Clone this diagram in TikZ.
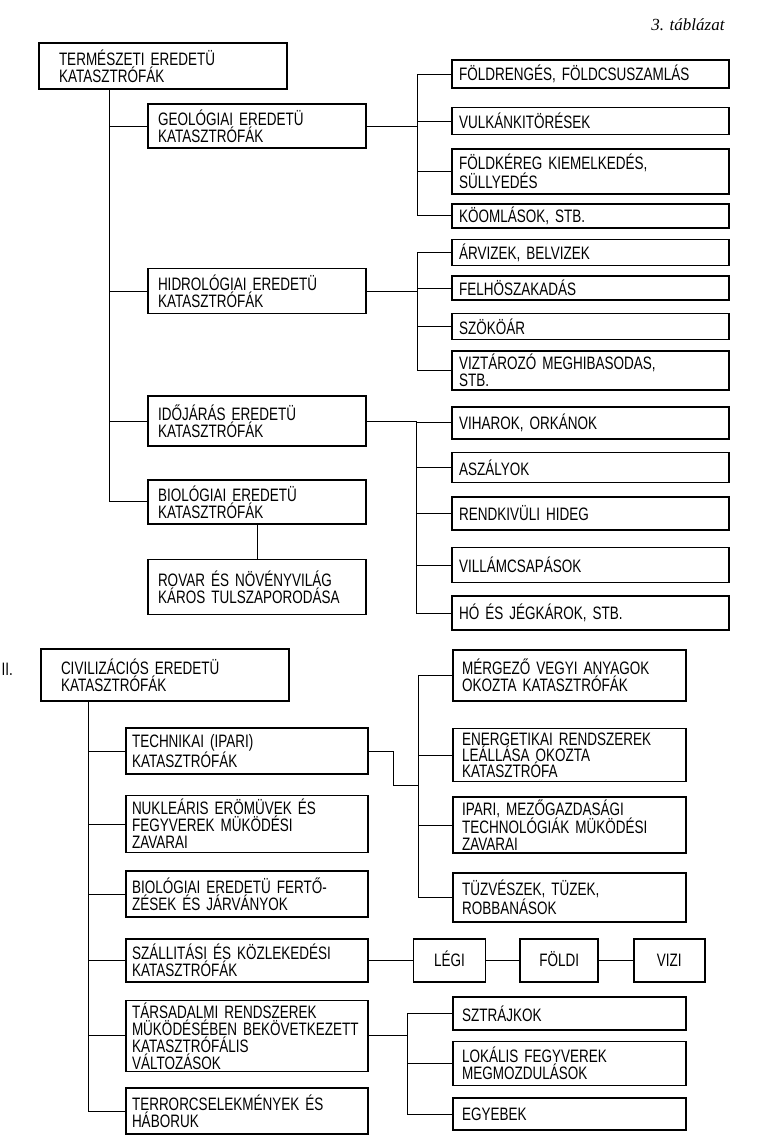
\documentclass[tikz,border=0pt]{standalone}
\usepackage{fontspec}
\setmainfont{Liberation Sans}[FakeStretch=0.75,WordSpace=1.6]
\newfontfamily\capfont{Liberation Serif}
\usetikzlibrary{positioning}

\begin{document}
\begin{tikzpicture}[
	x=1pt, y=1pt,
	font=\fontsize{18}{17}\selectfont,
	box/.style={rectangle, draw=black, line width=1.6pt, align=left, inner ysep=0pt},
	head/.style={box, text width=208pt, inner xsep=20pt},
	group/.style={box, text width=198pt, inner xsep=10pt},
	groupb/.style={box, text width=230pt, inner xsep=6pt},
	item/.style={box, text width=263pt, inner xsep=7pt},
	itemb/.style={box, text width=215pt, inner xsep=9pt},
	way/.style={box, align=center, inner xsep=0pt, text height=13pt, text depth=0pt, minimum height=43pt},
	link/.style={line width=0.9pt}
	]

	\useasboundingbox (0,0) rectangle (756,-1145);

	\node (tabla) [anchor=east, font=\capfont\itshape\fontsize{17}{19}\selectfont] at (728,-25) {3. táblázat};

		\node (nat) [head, minimum height=46pt] at (163,-66) {TERMÉSZETI EREDETÜ\\KATASZTRÓFÁK};
			\node (geo) [group, minimum height=44pt] at (257,-126) {GEOLÓGIAI EREDETÜ\\KATASZTRÓFÁK};
			\node (hidro) [group, minimum height=45pt, below=119pt of geo] {HIDROLÓGIAI EREDETÜ\\KATASZTRÓFÁK};
			\node (idoj) [group, minimum height=50pt, below=81pt of hidro] {IDŐJÁRÁS EREDETÜ\\KATASZTRÓFÁK};
			\node (bio) [group, minimum height=44pt, below=32pt of idoj] {BIOLÓGIAI EREDETÜ\\KATASZTRÓFÁK};
				\node (rovar) [group, minimum height=55pt, below=34pt of bio] {ROVAR ÉS NÖVÉNYVILÁG\\KÁROS TULSZAPORODÁSA};

				\node (fold) [item, minimum height=28pt] at (590.5,-74) {FÖLDRENGÉS, FÖLDCSUSZAMLÁS};
				\node (vulk) [item, minimum height=27pt, below=18pt of fold] {VULKÁNKITÖRÉSEK};
				\node (foldk) [item, minimum height=45pt, below=13pt of vulk] {FÖLDKÉREG KIEMELKEDÉS,\\SÜLLYEDÉS};
				\node (koom) [item, minimum height=24pt, below=8pt of foldk] {KÖOMLÁSOK, STB.};
				\node (arviz) [item, minimum height=26pt, below=10pt of koom] {ÁRVIZEK, BELVIZEK};
				\node (felho) [item, minimum height=24pt, below=9pt of arviz] {FELHÖSZAKADÁS};
				\node (szokoar) [item, minimum height=26pt, below=12pt of felho] {SZÖKÖÁR};
				\node (viztar) [item, minimum height=39pt, below=10pt of szokoar] {VIZTÁROZÓ MEGHIBASODAS,\\STB.};
				\node (vihar) [item, minimum height=32pt, below=15pt of viztar] {VIHAROK, ORKÁNOK};
				\node (aszaly) [item, minimum height=30pt, below=12pt of vihar] {ASZÁLYOK};
				\node (rendk) [item, minimum height=33pt, below=13pt of aszaly] {RENDKIVÜLI HIDEG};
				\node (villam) [item, minimum height=35pt, below=16pt of rendk] {VILLÁMCSAPÁSOK};
				\node (ho) [item, minimum height=34pt, below=12pt of villam] {HÓ ÉS JÉGKÁROK, STB.};

	\node (roman) [anchor=west] at (-2,-669) {II.};
		\node (civ) [head, minimum height=52pt] at (165,-675) {CIVILIZÁCIÓS EREDETÜ\\KATASZTRÓFÁK};
			\node (tech) [groupb, minimum height=46pt] at (247,-751) {TECHNIKAI (IPARI)\\KATASZTRÓFÁK};
			\node (nukl) [groupb, minimum height=57pt, below=20pt of tech] {NUKLEÁRIS ERÖMÜVEK ÉS\\FEGYVEREK MÜKÖDÉSI\\ZAVARAI};
			\node (biof) [groupb, minimum height=46pt, below=17pt of nukl] {BIOLÓGIAI EREDETÜ FERTŐ-\\ZÉSEK ÉS JÁRVÁNYOK};
			\node (szall) [groupb, minimum height=43pt, below=20pt of biof] {SZÁLLITÁSI ÉS KÖZLEKEDÉSI\\KATASZTRÓFÁK};
			\node (tars) [groupb, minimum height=71pt, below=17pt of szall] {TÁRSADALMI RENDSZEREK\\MÜKÖDÉSÉBEN BEKÖVETKEZETT\\KATASZTRÓFÁLIS\\VÁLTOZÁSOK};
			\node (terror) [groupb, minimum height=46pt, below=15pt of tars] {TERRORCSELEKMÉNYEK ÉS\\HÁBORUK};

				\node (merg) [itemb, minimum height=51pt] at (569.5,-675.5) {MÉRGEZŐ VEGYI ANYAGOK\\OKOZTA KATASZTRÓFÁK};
				\node (energ) [itemb, minimum height=53pt, font=\fontsize{18}{16}\selectfont, below=26pt of merg] {ENERGETIKAI RENDSZEREK\\LEÁLLÁSA OKOZTA\\KATASZTRÓFA};
				\node (ipari) [itemb, minimum height=56pt, below=14pt of energ] {IPARI, MEZŐGAZDASÁGI\\TECHNOLÓGIÁK MÜKÖDÉSI\\ZAVARAI};
				\node (tuz) [itemb, minimum height=49pt, below=18pt of ipari] {TÜZVÉSZEK, TÜZEK,\\ROBBANÁSOK};

				\node (legi) [way, minimum width=72pt, right=44pt of szall] {LÉGI};
				\node (foldi) [way, minimum width=78pt, right=33pt of legi] {FÖLDI};
				\node (vizi) [way, minimum width=71pt, right=34pt of foldi] {VIZI};

				\node (sztrajk) [itemb, minimum height=33pt] at (569.5,-1013.5) {SZTRÁJKOK};
				\node (lokal) [itemb, minimum height=44pt, below=10pt of sztrajk] {LOKÁLIS FEGYVEREK\\MEGMOZDULÁSOK};
				\node (egyeb) [itemb, minimum height=32pt, below=11pt of lokal] {EGYEBEK};


	\foreach \n in {geo,hidro,idoj,bio}
		\draw [link] ([xshift=71pt]nat.south west) |- (\n.west);
	\draw [link] (bio) -- (rovar);

	\foreach \n in {fold,vulk,foldk,koom}
		\draw [link] (geo.east) -| ([xshift=-34pt]\n.west) -- (\n.west);
	\foreach \n in {arviz,felho,szokoar,viztar}
		\draw [link] (hidro.east) -| ([xshift=-34pt]\n.west) -- (\n.west);
	\foreach \n in {vihar,aszaly,rendk,villam,ho}
		\draw [link] (idoj.east) -| ([xshift=-35pt]\n.west) -- (\n.west);


	\foreach \n in {tech,nukl,biof,szall,tars,terror}
		\draw [link] ([xshift=48pt]civ.south west) |- (\n.west);

	\draw [link] (tech.east) -- ++(25,0) |- ([xshift=-34pt,yshift=-3pt]energ.south west);
	\foreach \n in {merg,energ,ipari,tuz}
		\draw [link] ([xshift=-34pt,yshift=-3pt]energ.south west) |- (\n.west);

	\draw [link] (szall) -- (legi);
	\draw [link] (legi) -- (foldi);
	\draw [link] (foldi) -- (vizi);

	\foreach \n in {sztrajk,lokal,egyeb}
		\draw [link] (tars.east) -| ([xshift=-45pt]\n.west) -- (\n.west);

\end{tikzpicture}
\end{document}
